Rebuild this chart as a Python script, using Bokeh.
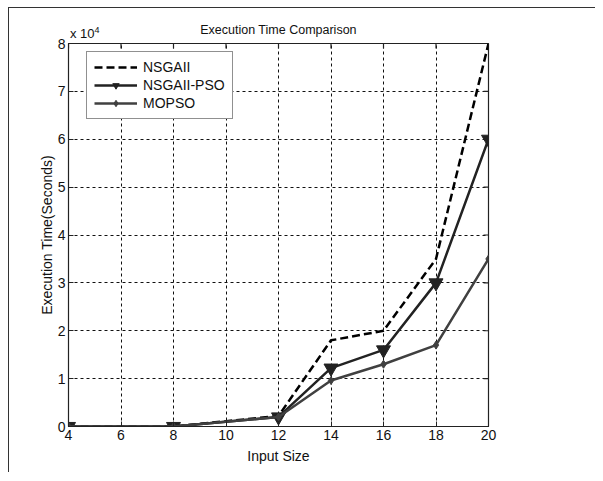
from bokeh.plotting import figure
from bokeh.models import Range1d, FixedTicker, Legend, LegendItem, Div
from bokeh.layouts import column
from bokeh.embed import file_html
from bokeh.resources import INLINE

# ---- data ----
input_size = [4, 8, 12, 14, 16, 18, 20]
nsgaii = [0, 0, 2200, 18000, 20000, 35000, 80000]
nsgaii_pso = [0, 0, 2000, 12200, 16000, 30000, 60000]
mopso = [0, 0, 2000, 9600, 13000, 17000, 35000]
x_ticks = [4, 6, 8, 10, 12, 14, 16, 18, 20]
y_ticks = [0, 10000, 20000, 30000, 40000, 50000, 60000, 70000, 80000]
y_tick_labels = ["0", "1", "2", "3", "4", "5", "6", "7", "8"]

FONT = "Liberation Sans"
X0, X1, Y0, Y1 = 4, 20, 0, 80000

p = figure(width=587, height=465, output_backend="svg", toolbar_location=None,
           x_range=Range1d(X0, X1), y_range=Range1d(Y0, Y1),
           min_border_left=59, min_border_right=108, min_border_top=35,
           min_border_bottom=47, title="Execution Time Comparison")
p.styles = {"border-top": "1px solid #333", "border-left": "1px solid #333",
            "margin-left": "8px", "margin-top": "7px"}

p.title.align = "center"
p.title.text_font = FONT
p.title.text_font_size = "12.5px"
p.title.text_font_style = "normal"
p.title.text_color = "#111"
p.title.standoff = 13

p.outline_line_color = "#222"
p.outline_line_width = 1.2

for ax in (p.xaxis[0], p.yaxis[0]):
    ax.major_tick_in = 5
    ax.major_tick_out = 0
    ax.minor_tick_in = 0
    ax.minor_tick_out = 0
    ax.major_label_text_font = FONT
    ax.major_label_text_font_size = "14px"
    ax.major_label_text_color = "#111"
    ax.axis_label_text_font = FONT
    ax.axis_label_text_font_size = "14px"
    ax.axis_label_text_font_style = "normal"
    ax.axis_label_text_color = "#111"
    ax.axis_line_color = "#222"
    ax.major_tick_line_color = "#222"

p.xaxis[0].ticker = FixedTicker(ticks=x_ticks)
p.yaxis[0].ticker = FixedTicker(ticks=y_ticks)
p.yaxis[0].major_label_overrides = {float(v): l for v, l in zip(y_ticks, y_tick_labels)}
p.xaxis[0].axis_label = "Input Size"
p.yaxis[0].axis_label = "Execution Time(Seconds)"
p.xaxis[0].major_label_standoff = 3
p.yaxis[0].major_label_standoff = 3
p.xaxis[0].axis_label_standoff = 5
p.yaxis[0].axis_label_standoff = 0

p.xgrid.ticker = FixedTicker(ticks=x_ticks)
p.ygrid.ticker = FixedTicker(ticks=y_ticks)
p.grid.grid_line_color = "#111"
p.grid.grid_line_dash = "3 3"
p.grid.grid_line_width = 1
p.grid.grid_line_alpha = 1.0

# inward box ticks on top and right edges (half of each dash is clipped by the frame)
p.scatter(x_ticks, [Y1] * len(x_ticks), marker="dash", angle=1.5708, size=10,
          line_color="#222", line_width=1.2)
p.scatter([X1] * len(y_ticks), y_ticks, marker="dash", size=10,
          line_color="#222", line_width=1.2)

r1 = p.line(input_size, nsgaii, line_color="#000", line_width=2.5, line_dash="8 4")
r2 = p.line(input_size, nsgaii_pso, line_color="#222", line_width=2.5)
r2m = p.scatter(input_size, nsgaii_pso, marker="inverted_triangle", size=14,
                fill_color="#222", line_color="#222")
r3 = p.line(input_size, mopso, line_color="#404040", line_width=2.5)
r3m = p.scatter(input_size, mopso, marker="diamond", size=8,
                fill_color="#404040", line_color="#404040")

legend = Legend(items=[
    LegendItem(label="NSGAII", renderers=[r1]),
    LegendItem(label="NSGAII-PSO", renderers=[r2, r2m]),
    LegendItem(label="MOPSO", renderers=[r3, r3m]),
], location=(18, 307))
legend.glyph_width = 43
legend.glyph_height = 16
legend.label_height = 16
legend.label_standoff = 6
legend.padding = 7
legend.spacing = 2
legend.margin = 0
legend.label_text_font = FONT
legend.label_text_font_size = "14px"
legend.label_text_line_height = 1.0
legend.label_text_color = "#111"
legend.border_line_color = "#222"
legend.border_line_width = 1
legend.background_fill_alpha = 1
p.add_layout(legend, "center")

# axis multiplier, placed over the figure (annotations are clipped to the frame)
exp_div = Div(text="x 10<sup style='font-size:9px'>4</sup>",
              styles={"position": "absolute", "left": "65px", "top": "18px",
                      "font-family": FONT, "font-size": "13px", "color": "#111",
                      "line-height": "15px", "z-index": "10"})

layout = column(p, exp_div)
open("out.html", "w").write(file_html(layout, INLINE))
